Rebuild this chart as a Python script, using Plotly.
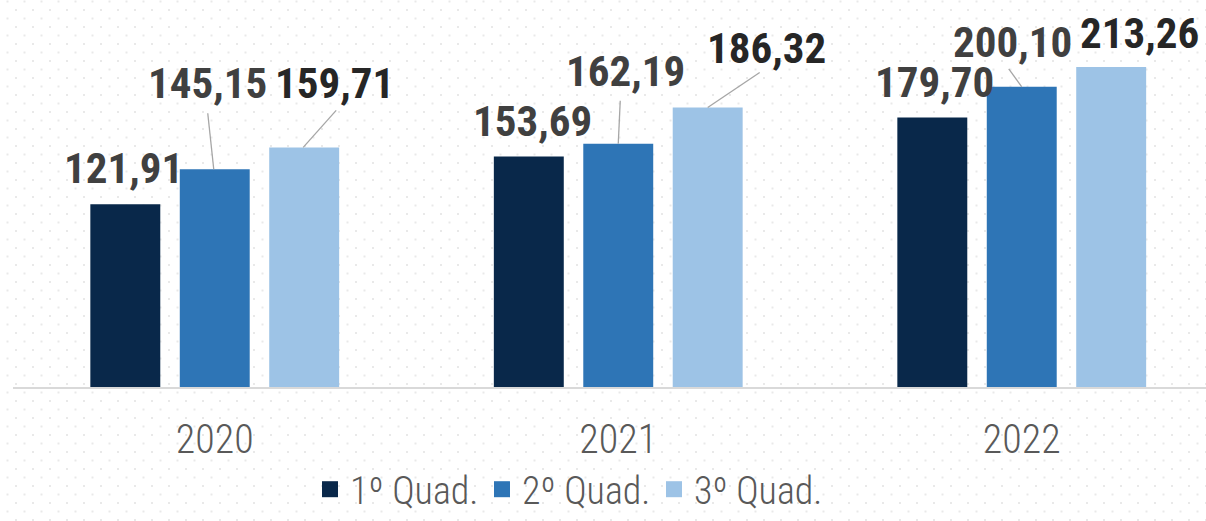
import base64
import plotly.graph_objects as go

# ---- data ----
years = ["2020", "2021", "2022"]
series_names = ["1º Quad.", "2º Quad.", "3º Quad."]
q1 = [121.91, 153.69, 179.70]
q2 = [145.15, 162.19, 200.10]
q3 = [159.71, 186.32, 213.26]

# ---- styling ----
colors = ["#09284a", "#2e75b6", "#9dc3e6"]
label_colors = ["#404040", "#404040", "#262626"]
# label offsets in pixels (xshift, yshift) relative to top-centre of each bar
label_offsets = [
    [(-2, 36), (4, 35.5), (2, 35.5)],
    [(-7, 86), (7, 72.7), (-9, 45)],
    [(30, 64), (59, 60), (28, 34)],
]
# leader lines in pixels: (x0, y0, x1, y1) relative to top-centre of bar, or None
leaders = [
    [None, None, None],
    [(-1, 0, -7, 56), (0, 0, 2, 43), (0, 0, -13, 18)],
    [(-1, 0, 32, 37), (0, 0, 52, 35), None],
]

FONT = "Roboto Condensed, Liberation Sans Narrow, Arial Narrow, DejaVu Sans Condensed, sans-serif"
W, H = 1206, 521
ML, MR, MT, MB = 13, 0, 0, 134
BARGAP = 0.335
BARGROUPGAP = 0.218

series = [q1, q2, q3]
fig = go.Figure()
for name, vals, col in zip(series_names, series, colors):
    fig.add_trace(go.Bar(x=years, y=vals, name=name, marker=dict(color=col, line=dict(width=0)),
                         showlegend=False, hoverinfo="skip"))
# legend proxies (bigger square symbols)
for name, col in zip(series_names, colors):
    fig.add_trace(go.Scatter(x=[None], y=[None], mode="markers", name=name,
                             marker=dict(symbol="square", size=20, color=col)))

slot = (1 - BARGAP) / len(series)
annotations = []
shapes = []
for si, vals in enumerate(series):
    for ci, v in enumerate(vals):
        xpos = ci + (si - (len(series) - 1) / 2) * slot
        dx, dy = label_offsets[si][ci]
        annotations.append(dict(
            x=xpos, y=v, xref="x", yref="y", text=f"{v:.2f}".replace(".", ","),
            showarrow=False, xshift=dx, yshift=dy,
            font=dict(family=FONT, size=43, color=label_colors[si], weight="bold"),
        ))
        ld = leaders[si][ci]
        if ld:
            shapes.append(dict(
                type="line", xref="x", yref="y", xsizemode="pixel", ysizemode="pixel",
                xanchor=xpos, yanchor=v, x0=ld[0], y0=ld[1], x1=ld[2], y1=ld[3],
                line=dict(color="#a6a6a6", width=1.3),
            ))

# dotted background pattern
svg = (
    f'<svg xmlns="http://www.w3.org/2000/svg" width="{W}" height="{H}">'
    '<defs><pattern id="p" width="17" height="17" patternUnits="userSpaceOnUse">'
    '<rect x="6.5" y="0.5" width="2" height="2" fill="#e9e9e9"/>'
    '<rect x="15" y="9" width="2" height="2" fill="#e9e9e9"/>'
    '</pattern></defs>'
    '<rect width="100%" height="100%" fill="url(#p)"/></svg>'
)
src = "data:image/svg+xml;base64," + base64.b64encode(svg.encode()).decode()
pw = W - ML - MR
ph = H - MT - MB

fig.update_layout(
    width=W, height=H,
    margin=dict(l=ML, r=MR, t=MT, b=MB, autoexpand=False),
    paper_bgcolor="white", plot_bgcolor="rgba(0,0,0,0)",
    barmode="group", bargap=BARGAP, bargroupgap=BARGROUPGAP,
    font=dict(family=FONT, color="#595959"),
    xaxis=dict(type="category", range=[-0.5, -0.5 + pw / 403.5], showline=True,
               linecolor="#d9d9d9", linewidth=2, showgrid=False, ticks="", automargin=False,
               ticklabelstandoff=16,
               tickfont=dict(family=FONT, size=40, color="#595959", weight=300), fixedrange=True),
    yaxis=dict(range=[0, ph / 1.5], visible=False, showgrid=False, zeroline=False, automargin=False),
    showlegend=True,
    legend=dict(orientation="h", x=(310 - ML) / pw, xanchor="left", y=-MB / ph,
                yanchor="bottom", font=dict(family=FONT, size=38, color="#595959", weight=300),
                bgcolor="rgba(0,0,0,0)", itemwidth=30, entrywidth=127),
    annotations=annotations,
    shapes=shapes,
    images=[dict(source=src, xref="paper", yref="paper", x=-ML / pw, y=1 + MT / ph,
                 sizex=W / pw, sizey=H / ph, xanchor="left", yanchor="top",
                 sizing="stretch", layer="below")],
)

fig.write_html("out.html", config={"displayModeBar": False, "staticPlot": True},
               post_script="document.body.style.margin='0';document.body.style.overflow='hidden';")
